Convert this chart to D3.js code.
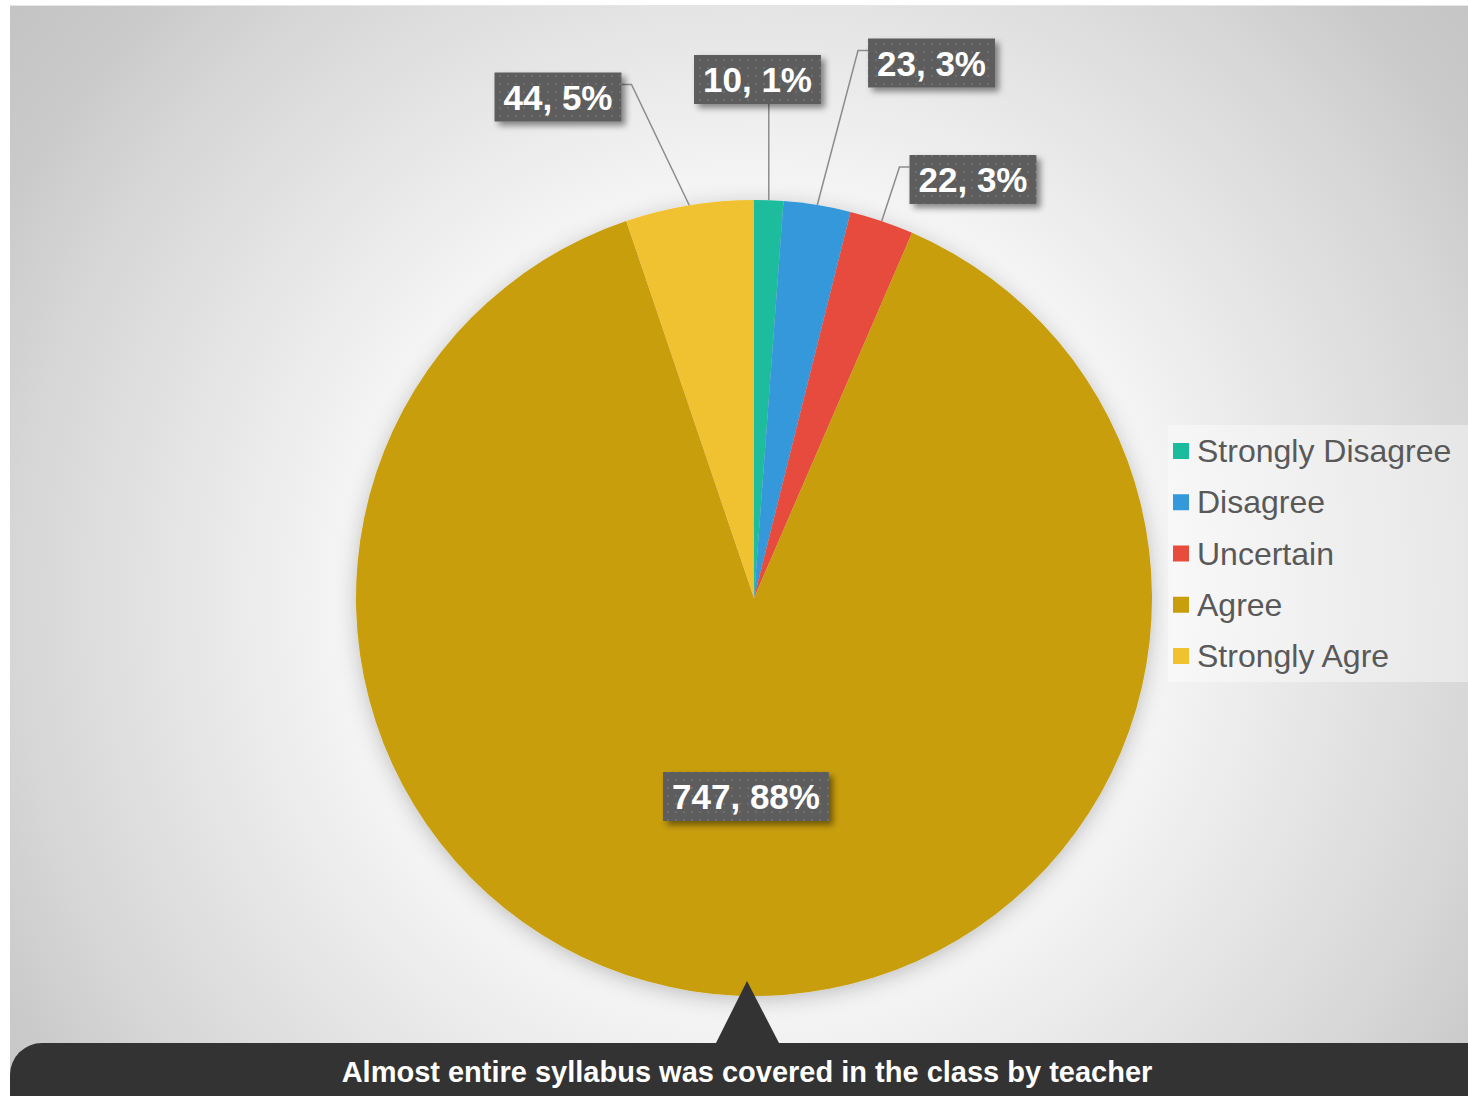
<!DOCTYPE html>
<html><head><meta charset="utf-8">
<script src="https://cdn.jsdelivr.net/npm/d3@7"></script>
<style>html,body{margin:0;padding:0;background:#fff;}svg{display:block;}</style>
</head><body>
<svg id="chart" width="1468" height="1096"></svg>
<script>
const categories = ["Strongly Disagree","Disagree","Uncertain","Agree","Strongly Agre"];
const values = [10, 23, 22, 747, 44];
const percentLabels = ["1%","3%","3%","88%","5%"];
const colors = ["#1abc9c","#3498db","#e74c3c","#c89e0d","#f0c230"];
const title = "Almost entire syllabus was covered in the class by teacher";

// layout (positions of label boxes, not data)
const labelLayout = [
  {cx:757.5, cy:79.5, leader:"vertical"},
  {cx:931.5, cy:63, leader:"left"},
  {cx:973, cy:179.5, leader:"left"},
  {cx:746, cy:796.5, leader:"none"},
  {cx:558, cy:97, leader:"right"}
];

const W=1468,H=1096;
const svg=d3.select("#chart");
const defs=svg.append("defs");

const bg=defs.append("radialGradient").attr("id","bg").attr("gradientUnits","userSpaceOnUse")
  .attr("cx",754).attr("cy",598).attr("r",950);
[[0,"#ffffff"],[0.3,"#fbfbfb"],[0.45,"#f3f3f3"],[0.78,"#d6d6d6"],[0.9,"#c9c9c9"],[1,"#c4c4c4"]].forEach(s=>bg.append("stop").attr("offset",s[0]).attr("stop-color",s[1]));

const pat=defs.append("pattern").attr("id","dots").attr("width",8).attr("height",8).attr("patternUnits","userSpaceOnUse");
pat.append("rect").attr("width",8).attr("height",8).attr("fill","#5d5d5d");
pat.append("rect").attr("x",3).attr("y",3).attr("width",2).attr("height",2).attr("fill","#6e6e6e");

const sh=defs.append("filter").attr("id","boxsh").attr("x","-20%").attr("y","-30%").attr("width","150%").attr("height","180%");
sh.append("feDropShadow").attr("dx",4).attr("dy",4).attr("stdDeviation",3).attr("flood-color","#000").attr("flood-opacity",0.45);

const psh=defs.append("filter").attr("id","piesh").attr("x","-20%").attr("y","-20%").attr("width","140%").attr("height","140%");
psh.append("feDropShadow").attr("dx",0).attr("dy",4).attr("stdDeviation",10).attr("flood-color","#000").attr("flood-opacity",0.22);

// background
svg.append("rect").attr("x",10).attr("y",6).attr("width",W-10).attr("height",H-6).attr("fill","url(#bg)");
svg.append("line").attr("x1",10).attr("x2",W).attr("y1",5.5).attr("y2",5.5).attr("stroke","#e6e6e6");

const cx=754, cy=598, R=398;
const pie=d3.pie().sort(null).value(d=>d)(values);
const arc=d3.arc().innerRadius(0).outerRadius(R);
const g=svg.append("g").attr("transform",`translate(${cx},${cy})`);
g.append("g").attr("filter","url(#piesh)").selectAll("path").data(pie).join("path")
  .attr("d",arc).attr("fill",(d,i)=>colors[i]);

// labels
const outerArc=d3.arc().innerRadius(R).outerRadius(R);
const lab=svg.append("g");
pie.forEach((d,i)=>{
  const L=labelLayout[i];
  const txt=`${values[i]}, ${percentLabels[i]}`;
  const t=lab.append("text").attr("x",L.cx).attr("y",L.cy+12.5).attr("text-anchor","middle")
    .attr("font-family","Liberation Sans, Arial, sans-serif").attr("font-weight","bold").attr("font-size",35)
    .attr("fill","#fff").text(txt);
  const bw=t.node().getComputedTextLength()+18, bh=49;
  const x0=L.cx-bw/2, y0=L.cy-bh/2;
  const [px,py]=outerArc.centroid(d);
  const ax=cx+px, ay=cy+py;
  if(L.leader==="vertical"){
    lab.insert("path","text").attr("d",`M${ax},${ay}L${ax},${y0+bh}`).attr("stroke","#8c8c8c").attr("stroke-width",1.5).attr("fill","none");
  } else if(L.leader==="left"){
    lab.insert("path","text").attr("d",`M${ax},${ay}L${x0-10},${y0+12}L${x0},${y0+12}`).attr("stroke","#8c8c8c").attr("stroke-width",1.5).attr("fill","none");
  } else if(L.leader==="right"){
    lab.insert("path","text").attr("d",`M${ax},${ay}L${x0+bw+10},${y0+12}L${x0+bw},${y0+12}`).attr("stroke","#8c8c8c").attr("stroke-width",1.5).attr("fill","none");
  }
  lab.insert("rect","text").attr("x",x0).attr("y",y0).attr("width",bw).attr("height",bh)
    .attr("fill","url(#dots)").attr("filter","url(#boxsh)");
  t.raise();
});

// legend
const lg=svg.append("g");
lg.append("rect").attr("x",1168).attr("y",425).attr("width",300).attr("height",257).attr("fill","#ffffff").attr("opacity",0.4);
const ly=d3.scalePoint().domain(categories).range([451,656]);
categories.forEach((c,i)=>{
  lg.append("rect").attr("x",1173).attr("y",ly(c)-8).attr("width",16).attr("height",16).attr("fill",colors[i]);
  lg.append("text").attr("x",1197).attr("y",ly(c)+11).attr("font-family","Liberation Sans, Arial, sans-serif")
    .attr("font-size",32).attr("fill","#595959").text(c);
});

// banner
svg.append("path").attr("d","M747,981L716,1043L779,1043Z").attr("fill","#333333");
svg.append("rect").attr("x",10).attr("y",1043).attr("width",1520).attr("height",110).attr("rx",32).attr("fill","#333333");
svg.append("text").attr("x",747).attr("y",1082).attr("text-anchor","middle")
  .attr("font-family","Liberation Sans, Arial, sans-serif").attr("font-weight","bold").attr("font-size",29)
  .attr("fill","#fff").text(title);
</script>
</body></html>
